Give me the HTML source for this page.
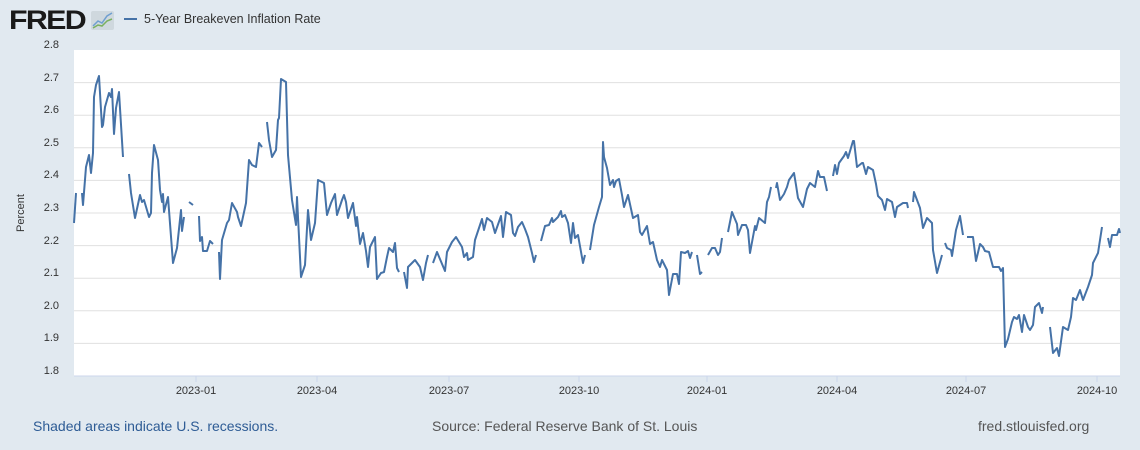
<!DOCTYPE html>
<html><head><meta charset="utf-8"><style>
body{margin:0;background:#e1e9f0;width:1140px;height:450px;overflow:hidden;font-family:"Liberation Sans",sans-serif;}
</style></head><body>
<svg width="1140" height="450" xmlns="http://www.w3.org/2000/svg" style="position:absolute;left:0;top:0">
<rect x="0" y="0" width="1140" height="450" fill="#e1e9f0"/>
<text x="9" y="29" font-family="Liberation Sans,sans-serif" font-weight="bold" font-size="27" fill="#1a1a1a" letter-spacing="-1.5" textLength="76" lengthAdjust="spacingAndGlyphs">FRED</text>
<rect x="91" y="11" width="23" height="19" rx="2" fill="#cfd8de"/>
<polyline points="93,26 98,21 102,23 107,16 112,13" fill="none" stroke="#6f9fd0" stroke-width="1.5"/>
<polyline points="93,28 98,25 102,26 107,21 112,19" fill="none" stroke="#7ab060" stroke-width="1.5"/>
<line x1="124" y1="19" x2="137" y2="19" stroke="#4572a7" stroke-width="2"/>
<text x="144" y="23" font-size="12.5" fill="#333">5-Year Breakeven Inflation Rate</text>
<rect x="74" y="50" width="1046" height="326" fill="#fff"/>
<g stroke="#e0e0e0" stroke-width="1">
<line x1="74" x2="1120" y1="82.6" y2="82.6"/><line x1="74" x2="1120" y1="115.2" y2="115.2"/>
<line x1="74" x2="1120" y1="147.8" y2="147.8"/><line x1="74" x2="1120" y1="180.4" y2="180.4"/>
<line x1="74" x2="1120" y1="213" y2="213"/><line x1="74" x2="1120" y1="245.6" y2="245.6"/>
<line x1="74" x2="1120" y1="278.2" y2="278.2"/><line x1="74" x2="1120" y1="310.8" y2="310.8"/>
<line x1="74" x2="1120" y1="343.4" y2="343.4"/>
</g>
<line x1="74" x2="1120" y1="376" y2="376" stroke="#ccd6eb"/>
<g stroke="#ccd6eb"><line x1="196" x2="196" y1="376" y2="382"/><line x1="317" x2="317" y1="376" y2="382"/><line x1="449" x2="449" y1="376" y2="382"/><line x1="579" x2="579" y1="376" y2="382"/><line x1="707" x2="707" y1="376" y2="382"/><line x1="837" x2="837" y1="376" y2="382"/><line x1="966" x2="966" y1="376" y2="382"/><line x1="1097" x2="1097" y1="376" y2="382"/></g>
<g font-size="11" fill="#333" text-anchor="end">
<text x="59" y="48">2.8</text><text x="59" y="81">2.7</text><text x="59" y="113">2.6</text><text x="59" y="146">2.5</text><text x="59" y="178">2.4</text><text x="59" y="211">2.3</text><text x="59" y="244">2.2</text><text x="59" y="276">2.1</text><text x="59" y="309">2.0</text><text x="59" y="341">1.9</text><text x="59" y="374">1.8</text>
</g>
<text transform="translate(24,213) rotate(-90)" font-size="11" fill="#333" text-anchor="middle">Percent</text>
<g font-size="11" fill="#333" text-anchor="middle">
<text x="196" y="394">2023-01</text><text x="317" y="394">2023-04</text><text x="449" y="394">2023-07</text><text x="579" y="394">2023-10</text><text x="707" y="394">2024-01</text><text x="837" y="394">2024-04</text><text x="966" y="394">2024-07</text><text x="1097" y="394">2024-10</text>
</g>
<g fill="none" stroke="#4572a7" stroke-width="2" stroke-linejoin="round">
<polyline points="74,223 76,193"/>
<polyline points="82,193 83,205 86,167 89,155 91,173 93,153 94,97 96,85 99,76 102,127 103,125 105,107 109,93 111,97 112,89 114,134 116,108 119,92 123,157"/>
<polyline points="129,174 131,193 135,218 140,195 142,202 144,200 149,217 151,213 152,173 154,145 158,160 160,190 162,202 163,194 164,212 168,197 173,263 177,248 181,210 182,231 184,217"/>
<polyline points="189,202 193,205"/>
<polyline points="199,216 200,241 202,237 203,251 207,251 210,241 213,244"/>
<polyline points="219,252 220,279 222,240 227,223 229,220 232,203 237,212 238,217 241,226 246,203 249,160 252,165 256,167 259,143 262,147"/>
<polyline points="267,122 269,140 272,157 276,150 278,120 279,118 281,79 286,82 288,155 292,200 296,225 297,197 301,277 305,265 308,210 311,240 315,223 318,180 324,183 327,215 331,203 335,194 337,215 342,200 344,195 346,202 348,218 353,203 356,226 357,217 360,244 363,233 366,251 368,267 370,247 375,237 377,279 381,273 384,272 387,257 389,248 393,252 395,243 397,268 399,272"/>
<polyline points="404,272 407,288 408,267 415,260 420,267 423,280 426,263 428,255"/>
<polyline points="433,263 437,252 445,271 447,252 452,242 456,237 462,247 464,257 467,253 468,260 473,257 475,240 482,219 484,230 487,218 492,222 495,233 501,216 503,237 506,212 511,215 513,233 515,236 518,227 522,222 525,229 528,237 532,253 534,262 536,255"/>
<polyline points="541,241 545,226 549,225 552,218 553,222 558,217 561,211 562,217 565,215 568,223 571,243 573,223 575,238 578,235 583,263 585,255"/>
<polyline points="590,250 594,225 599,207 602,197 603,142 604,157 607,168 610,185 613,180 614,187 616,181 619,179 622,195 624,207 628,195 633,218 638,215 640,232 642,235 647,226 650,244 653,242 657,260 660,267 662,260 667,270 669,295 673,274 677,274 679,284 681,252 685,253 688,251 690,258 692,252"/>
<polyline points="697,255 700,274 702,272"/>
<polyline points="708,255 712,248 715,248 718,255 720,252 722,238"/>
<polyline points="728,232 732,212 737,224 738,235 742,225 746,225 748,230 750,253 755,226 756,230 759,218 765,223 767,202 769,197 771,187"/>
<polyline points="776,188 777,183 780,200 784,194 787,187 789,180 794,173 796,185 798,198 803,207 807,189 810,183 815,187 818,171 820,177 824,177 827,191"/>
<polyline points="833,176 835,165 837,174 839,163 844,156 846,152 848,158 853,141 854,141 857,167 862,163 863,163 866,174 868,167 873,170 876,184 878,196 882,200 885,210 887,199 892,202 895,217 897,207 903,203 907,203 908,208"/>
<polyline points="913,202 914,192 920,208 923,228 927,218 932,223 933,250 937,273 942,255"/>
<polyline points="945,243 947,248 951,250 952,256 956,230 960,216 963,235"/>
<polyline points="967,237 971,237 973,237 976,261 980,244 983,247 985,251 989,252 993,267 999,267 1001,271 1003,268 1005,347 1008,339 1012,322 1014,317 1017,319 1019,315 1022,332 1024,315 1028,327 1030,330 1033,325 1035,307 1039,303 1042,313 1043,307"/>
<polyline points="1050,327 1053,353 1057,348 1059,356 1063,327 1068,330 1071,317 1073,298 1076,300 1080,290 1083,300 1088,287 1092,275 1093,263 1098,253 1102,227"/>
<polyline points="1108,238 1110,247 1112,235 1117,235 1119,229 1120,233"/>
</g>
<text x="33" y="431" font-size="14" fill="#2e5c95">Shaded areas indicate U.S. recessions.</text>
<text x="432" y="431" font-size="14" fill="#555">Source: Federal Reserve Bank of St. Louis</text>
<text x="978" y="431" font-size="14" fill="#555">fred.stlouisfed.org</text>
</svg>
</body></html>
